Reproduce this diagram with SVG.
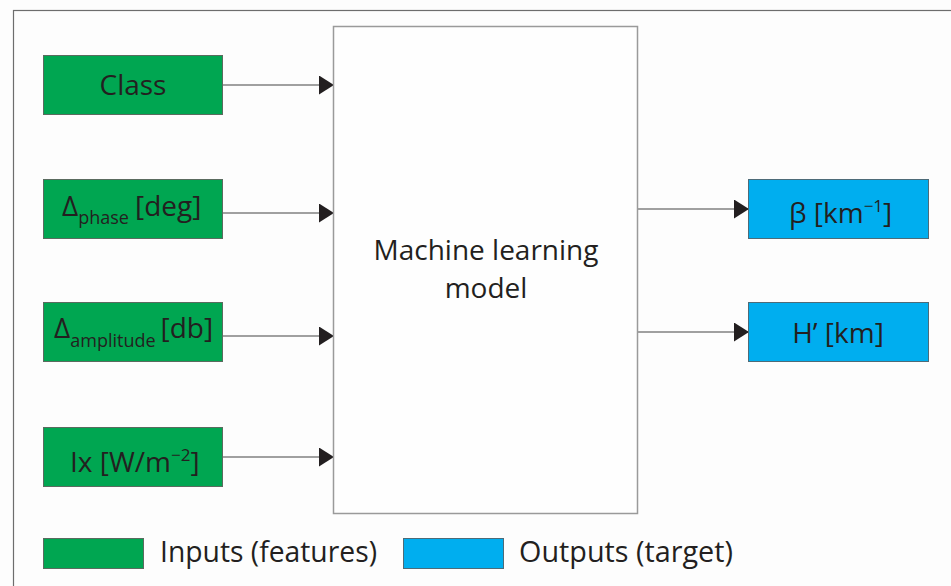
<svg xmlns="http://www.w3.org/2000/svg" width="951" height="586" viewBox="0 0 951 586">
<defs>
<style>
.t{font-family:"Open Sans","Liberation Sans",sans-serif;fill:#231f20;}
.in{fill:#00a651;stroke:#5a6b5f;stroke-width:1;}
.out{fill:#00aeef;stroke:#4d6b78;stroke-width:1;}
.c{stroke:#444;stroke-width:1.2;fill:none;}
</style>
<marker id="ah" markerUnits="userSpaceOnUse" markerWidth="15" markerHeight="19" refX="15" refY="9.5" orient="auto">
<path d="M0,0 L15,9.5 L0,19 Z" fill="#231f20"/>
</marker>
</defs>
<rect x="0" y="0" width="951" height="586" fill="#fdfdfd"/>
<rect x="13.5" y="10.5" width="1000" height="1000" fill="none" stroke="#6d6d6d" stroke-width="1.2"/>

<g id="connectors">
<line class="c" x1="223" y1="85" x2="334" y2="85" marker-end="url(#ah)"/>
<line class="c" x1="223" y1="213" x2="334" y2="213" marker-end="url(#ah)"/>
<line class="c" x1="223" y1="336" x2="334" y2="336" marker-end="url(#ah)"/>
<line class="c" x1="223" y1="457" x2="334" y2="457" marker-end="url(#ah)"/>
<line class="c" x1="638" y1="209" x2="749" y2="209" marker-end="url(#ah)"/>
<line class="c" x1="638" y1="332" x2="749" y2="332" marker-end="url(#ah)"/>
</g>

<g id="model">
<rect x="333.5" y="26.5" width="304" height="487" fill="#fefefe" stroke="#9a9a9a" stroke-width="1.5"/>
<text class="t" x="486" y="260" font-size="28" text-anchor="middle">Machine learning</text>
<text class="t" x="486" y="298" font-size="28" text-anchor="middle">model</text>
</g>

<g id="class">
<rect class="in" x="43.5" y="55.5" width="179" height="59"/>
<text class="t" x="133" y="95" font-size="28" text-anchor="middle">Class</text>
</g>

<g id="phase">
<rect class="in" x="43.5" y="179.5" width="179" height="59"/>
<text class="t" x="62" y="216" font-size="28">Δ<tspan font-size="18" dy="8">phase</tspan><tspan dy="-8" dx="6">[deg]</tspan></text>
</g>

<g id="amplitude">
<rect class="in" x="43.5" y="302.5" width="179" height="59"/>
<text class="t" x="54" y="338" font-size="28">Δ<tspan font-size="18" dy="9">amplitude</tspan><tspan dy="-9" dx="5">[db]</tspan></text>
</g>

<g id="ix">
<rect class="in" x="43.5" y="427.5" width="179" height="59"/>
<text class="t" x="70" y="472" font-size="28">Ix [W/m<tspan font-size="17" dy="-11">−2</tspan><tspan dy="11">]</tspan></text>
</g>

<g id="beta">
<rect class="out" x="748.5" y="179.5" width="180" height="59"/>
<text class="t" x="789" y="223" font-size="28">β [km<tspan font-size="17" dy="-11">−1</tspan><tspan dy="11">]</tspan></text>
</g>

<g id="height">
<rect class="out" x="748.5" y="302.5" width="180" height="59"/>
<text class="t" x="838" y="343" font-size="28" text-anchor="middle">H’ [km]</text>
</g>

<g id="legend">
<rect class="in" x="43.5" y="538.5" width="100" height="30"/>
<text class="t" x="160" y="562" font-size="29" textLength="217" lengthAdjust="spacingAndGlyphs">Inputs (features)</text>
<rect class="out" x="403.5" y="538.5" width="100" height="30"/>
<text class="t" x="519" y="562" font-size="29" textLength="214" lengthAdjust="spacingAndGlyphs">Outputs (target)</text>
</g>
</svg>
